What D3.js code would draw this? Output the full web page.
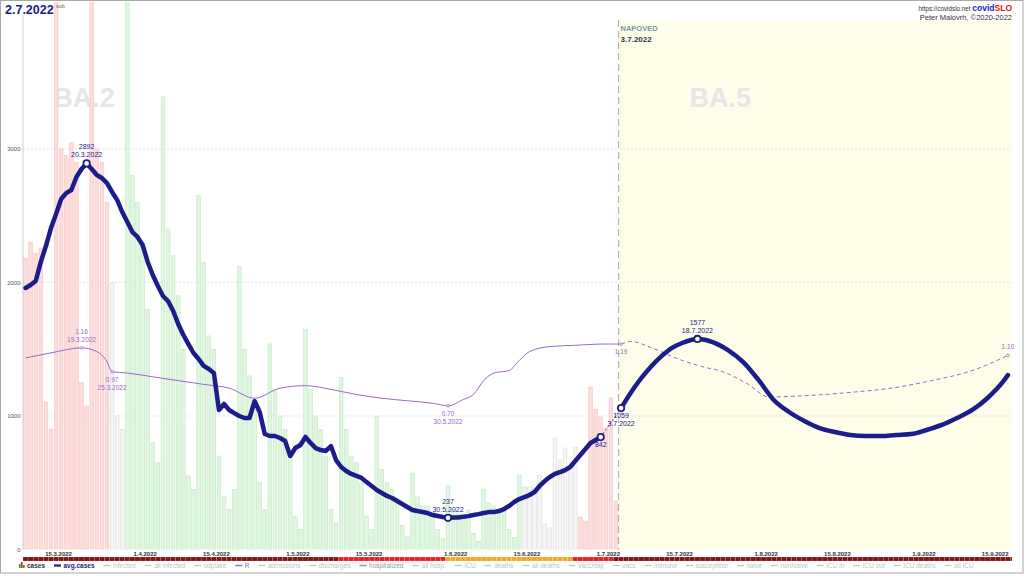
<!DOCTYPE html>
<html><head><meta charset="utf-8">
<script src="https://cdn.jsdelivr.net/npm/d3@7"></script>
<style>
body{margin:0;background:#fff;}
svg{display:block;font-family:"Liberation Sans",Arial,sans-serif;}
</style></head><body>
<svg id="c" width="1024" height="576"></svg>
<script>
// ---------------- DATA ----------------
const titleDate = "2.7.2022";
const titleDay = "sob";
const casesStart = "2022-03-08";
const cases = [
 2183,2303,2220,2258,1105,903,4300,
 3000,2950,3050,2900,1250,1075,4300,
 3000,2900,2600,2000,1000,900,4300,
 2800,2600,2300,1800,800,650,3390,
 2400,2200,1900,1500,550,450,2650,
 2150,1600,1500,700,400,300,450,
 2120,1500,1300,1100,500,300,1540,
 1200,1000,900,700,250,150,1650,
 1200,1000,900,700,300,200,1290,
 900,700,650,500,250,150,1000,
 600,500,450,380,180,100,573,
 393,326,326,281,150,80,480,
 300,273,250,296,120,60,453,
 348,326,296,310,150,90,558,
 468,468,460,558,191,161,835,
 670,760,595,768,243,213,1217,
 1052,993,910,1135,363
];
// weekly trend class of each day's cases: r = up, g = down, w = flat
const casesTrend = "rrrrrrrrrrrrrrrrrwwwggggggggggggggggggggggggggggggggggggggggggggggggggggggggggggggggggggggggggggggwwwwwwwwwwwrrrrrrrrrrrrrrrrrrrr";
const avgStart = "2022-03-08";
const avgCases = [
 1959,1981,2011,2154,2273,2408,2513,2625,2670,2693,
 2790,2850,2892,2850,2805,2783,2745,2678,2618,2528,
 2453,2378,2341,2281,2154,2056,1974,1899,1861,1787,
 1689,1607,1539,1472,1427,1375,1352,1322,1045,1090,
 1045,1022,1000,985,985,1112,1030,865,850,850,
 835,813,700,760,783,843,798,760,745,738,
 775,670,618,588,566,551,536,506,476,446,
 423,401,386,363,341,318,296,288,281,273,
 258,251,243,237,240,240,245,250,258,265,
 273,280,280,288,303,326,356,378,393,408,
 431,476,513,543,566,580,595,618,663,708,
 753,798,820,842
];
const fcDates = ["2022-07-03","2022-07-05","2022-07-07","2022-07-09","2022-07-11","2022-07-13","2022-07-15","2022-07-18","2022-07-21","2022-07-24","2022-07-27","2022-07-30","2022-08-02","2022-08-05","2022-08-08","2022-08-11","2022-08-14","2022-08-17","2022-08-20","2022-08-23","2022-08-26","2022-08-29","2022-09-01","2022-09-04","2022-09-07","2022-09-10","2022-09-13","2022-09-16","2022-09-17"];
const fcAvg = [1059,1180,1285,1375,1450,1510,1547,1577,1554,1494,1404,1270,1120,1030,963,910,880,858,850,850,858,865,895,933,985,1045,1135,1255,1307];
const rDates = ["2022-03-08","2022-03-13","2022-03-19","2022-03-22","2022-03-24","2022-03-25","2022-03-28","2022-04-02","2022-04-07","2022-04-12","2022-04-17","2022-04-22","2022-04-27","2022-05-02","2022-05-07","2022-05-12","2022-05-17","2022-05-22","2022-05-27","2022-05-30","2022-06-02","2022-06-04","2022-06-06","2022-06-08","2022-06-11","2022-06-13","2022-06-15","2022-06-19","2022-06-24","2022-06-29","2022-07-03"];
const rValues = [1.08,1.12,1.16,1.13,1.05,0.97,0.96,0.93,0.90,0.87,0.84,0.76,0.84,0.86,0.83,0.79,0.76,0.74,0.72,0.70,0.75,0.79,0.90,0.96,0.98,1.06,1.13,1.17,1.18,1.19,1.19];
const rFcDates = ["2022-07-03","2022-07-05","2022-07-09","2022-07-15","2022-07-19","2022-07-23","2022-07-28","2022-08-01","2022-08-08","2022-08-18","2022-08-25","2022-09-02","2022-09-10","2022-09-17"];
const rFcValues = [1.19,1.21,1.16,1.06,1.01,0.97,0.87,0.77,0.78,0.81,0.84,0.90,0.98,1.10];
const avgNotes = [ {date:"2022-03-20", v:2892, pos:"above", label:["2892","20.3.2022"]},
                   {date:"2022-05-30", v:237, pos:"above", label:["237","30.5.2022"]},
                   {date:"2022-06-29", v:842, pos:"below", label:["842"]},
                   {date:"2022-07-03", v:1059, pos:"below", label:["1059","3.7.2022"]},
                   {date:"2022-07-18", v:1577, pos:"above", label:["1577","18.7.2022"]} ];
const rNotes = [ {date:"2022-03-19", v:1.16, pos:"above", label:["1.16","19.3.2022"]},
                 {date:"2022-03-25", v:0.97, pos:"below", label:["0.97","25.3.2022"]},
                 {date:"2022-05-30", v:0.70, pos:"below", label:["0.70","30.5.2022"]},
                 {date:"2022-07-03", v:1.19, pos:"below", label:["1.19"]},
                 {date:"2022-09-17", v:1.10, pos:"above", label:["1.10"]} ];
const yTicks = [0,1000,2000,3000];
const xTicks = ["2022-03-15","2022-04-01","2022-04-15","2022-05-01","2022-05-15","2022-06-01","2022-06-15","2022-07-01","2022-07-15","2022-08-01","2022-08-15","2022-09-01","2022-09-15"];
const forecastStart = "2022-07-03";
const variants = [{name:"BA.2", date:"2022-03-20"},{name:"BA.5", date:"2022-07-23"}];
const phaseStarts = ["2022-03-08","2022-05-09","2022-05-30","2022-06-24","2022-07-02"];
const phaseLevels = ["dark","red","orange","red","dark"];
const legendLabels = ["cases","avg.cases","infected","all infected","odplake","R","admissions","discharged","hospitalized","all hosp.","ICU","deaths","all deaths","vacc/day","vacc","immune","susceptible","naive","nonNaive","ICU in","ICU out","ICU deaths","all ICU"];
const legendOn = ["cases","avg.cases","R","hospitalized"];

// ---------------- CHART ----------------
const parse = d3.timeParse("%Y-%m-%d");
const dayAt = (s,i)=> d3.timeDay.offset(parse(s), i);
const noon = d => d3.timeHour.offset(d, 12);
const L = 23, R = 1012, B = 549.5, T = 2, FT = 21;
const x = d3.scaleTime().domain([parse("2022-03-08"), parse("2022-09-15")]).range([23, 995.2]);
const y = d3.scaleLinear().domain([0, 1000]).range([B, 416]);
const yR = d3.scaleLinear().domain([0.5, 1.5]).range([431, 305]);
const navy = "#1c1c8a", purple = "#9a68c8";
const svg = d3.select("#c");

svg.append("defs").append("clipPath").attr("id","plot").append("rect")
  .attr("x",L).attr("y",T).attr("width",R-L).attr("height",B-T);

// forecast background
const fx = x(parse(forecastStart));
svg.append("rect").attr("x",fx).attr("y",FT).attr("width",R-fx).attr("height",B-FT).attr("fill","#fdfdea");

// grid
svg.append("g").selectAll("line").data(yTicks.filter(d=>d>0)).join("line")
  .attr("x1",L).attr("x2",R).attr("y1",d=>y(d)).attr("y2",d=>y(d))
  .attr("stroke","#dcdcdc").attr("stroke-width",0.8).attr("stroke-dasharray","2,2");

// variant labels
svg.append("g").selectAll("text").data(variants).join("text")
  .attr("x",d=>x(parse(d.date))).attr("y",107).attr("text-anchor","middle")
  .attr("font-size",27).attr("font-weight","bold").attr("fill","#e6e6e6").text(d=>d.name);

// bars
const barFill = {r:"#fddcdc", g:"#e0f6e0", w:"#f5f5f5"};
const barStroke = {r:"#f5c6c6", g:"#c2eac2", w:"#dcdcdc"};
svg.append("g").attr("clip-path","url(#plot)").selectAll("rect").data(cases).join("rect")
  .attr("x",(v,i)=>x(dayAt(casesStart,i))+0.7)
  .attr("width",(v,i)=>x(dayAt(casesStart,i+1))-x(dayAt(casesStart,i))-1.4)
  .attr("y",v=>y(v)).attr("height",v=>B-y(v))
  .attr("fill",(v,i)=>barFill[casesTrend[i]]).attr("stroke",(v,i)=>barStroke[casesTrend[i]]).attr("stroke-width",0.6);

// y axis line
svg.append("line").attr("x1",L).attr("x2",L).attr("y1",15).attr("y2",B).attr("stroke","#cfcfcf");

// forecast divider
svg.append("line").attr("x1",fx).attr("x2",fx).attr("y1",20).attr("y2",B)
  .attr("stroke","#b5b5b5").attr("stroke-width",1.2).attr("stroke-dasharray","7,4");
svg.append("text").attr("x",fx+2).attr("y",31).attr("font-size",7.5).attr("font-weight","bold").attr("fill","#6f9c9c").text("NAPOVED");
svg.append("text").attr("x",fx+2).attr("y",42).attr("font-size",8).attr("font-weight","bold").attr("fill","#2e3a3a").text("3.7.2022");

// R lines
const rPts = rDates.map((d,i)=>[noon(parse(d)), rValues[i]]);
const rFcPts = rFcDates.map((d,i)=>[noon(parse(d)), rFcValues[i]]);
const rLine = d3.line().x(d=>x(d[0])).y(d=>yR(d[1])).curve(d3.curveMonotoneX);
svg.append("path").attr("d",rLine(rPts)).attr("fill","none").attr("stroke",purple).attr("stroke-width",1);
svg.append("path").attr("d",rLine(rFcPts)).attr("fill","none").attr("stroke",purple).attr("stroke-width",1).attr("stroke-dasharray","4,3");

// avg line
const aPts = avgCases.map((v,i)=>[noon(dayAt(avgStart,i)), v]);
const fPts = fcDates.map((d,i)=>[noon(parse(d)), fcAvg[i]]);
const aLine = d3.line().x(d=>x(d[0])).y(d=>y(d[1]));
svg.append("path").attr("d",aLine([aPts[aPts.length-1], fPts[0]])).attr("fill","none")
  .attr("stroke",navy).attr("stroke-width",0.8).attr("stroke-dasharray","2,2");
svg.append("path").attr("d",aLine(aPts)).attr("fill","none").attr("stroke",navy).attr("stroke-width",4.5).attr("stroke-linejoin","round").attr("stroke-linecap","round");
svg.append("path").attr("d",aLine.curve(d3.curveMonotoneX)(fPts)).attr("fill","none").attr("stroke",navy).attr("stroke-width",4.5).attr("stroke-linecap","round");

// notes
function notes(list, ys, color, r, fs){
  const g = svg.append("g");
  list.forEach(n=>{
    const px = x(noon(parse(n.date))), py = ys(n.v);
    g.append("circle").attr("cx",px).attr("cy",py).attr("r",r).attr("fill","#fff").attr("stroke",color).attr("stroke-width",r>2?1.8:0.8);
    n.label.forEach((t,k)=>{
      const ty = n.pos==="above" ? py-6-(n.label.length-1-k)*8 : py+10+k*8;
      g.append("text").attr("x",px).attr("y",ty).attr("text-anchor","middle").attr("font-size",fs).attr("fill",color).text(t);
    });
  });
}
notes(rNotes, yR, purple, 1.3, 6.5);
notes(avgNotes, y, navy, 3.2, 7);

// y labels
svg.append("g").selectAll("text").data(yTicks).join("text")
  .attr("x",20.5).attr("y",d=>y(d)+2).attr("text-anchor","end").attr("font-size",6).attr("fill","#556").text(d=>d);

// x tick labels
const fmt = d3.timeFormat("%-d.%-m.%Y");
svg.append("g").selectAll("text").data(xTicks).join("text")
  .attr("x",d=>x(parse(d))).attr("y",556.3).attr("text-anchor","middle").attr("font-size",6).attr("font-weight","bold").attr("fill","#333").text(d=>fmt(parse(d)));

// phase strip
const phaseColor = {dark:"#8a1010", red:"#f01c1c", orange:"#f5a623"};
const stripDays = d3.timeDay.range(parse("2022-03-08"), d3.timeDay.offset(parse("2022-09-15"),4));
const phaseOf = d => { let k=0; phaseStarts.forEach((s,i)=>{ if(d>=parse(s)) k=i; }); return phaseLevels[k]; };
svg.append("g").selectAll("rect").data(stripDays).join("rect")
  .attr("x",d=>x(d)).attr("width",d=>Math.min(x(d3.timeDay.offset(d,1)),R)-x(d)).attr("y",557).attr("height",4)
  .attr("fill",d=>phaseColor[phaseOf(d)]).attr("stroke","rgba(255,255,255,0.35)").attr("stroke-width",0.4);

// legend
const lg = svg.append("g").attr("font-size",6.5);
let lx = 19;
legendLabels.forEach(name=>{
  const on = legendOn.includes(name);
  const col = name==="avg.cases"?navy : name==="R"?purple : name==="cases"?"#333" : name==="hospitalized"?"#999":"#c4c4c4";
  if(name==="cases"){
    lg.append("rect").attr("x",lx).attr("y",564).attr("width",1.6).attr("height",4).attr("fill","#2a9a2a");
    lg.append("rect").attr("x",lx+2).attr("y",562).attr("width",1.6).attr("height",6).attr("fill","#e02020");
    lg.append("rect").attr("x",lx+4).attr("y",565).attr("width",1.6).attr("height",3).attr("fill","#2a9a2a");
    lx += 8;
  } else {
    lg.append("line").attr("x1",lx).attr("x2",lx+7).attr("y1",565.5).attr("y2",565.5).attr("stroke",col).attr("stroke-width",name==="avg.cases"?2.2:(on?1.5:1.2));
    lx += 9.5;
  }
  const t = lg.append("text").attr("x",lx).attr("y",568).attr("fill",col).attr("font-weight",(name==="avg.cases"||name==="cases")?"bold":"normal").text(name);
  lx += t.node().getComputedTextLength() + 8.9;
});

// title and credits
svg.append("text").attr("x",5).attr("y",14).attr("font-size",12.5).attr("font-weight","bold").attr("fill","#1a1a8c").text(titleDate);
svg.append("text").attr("x",56).attr("y",8).attr("font-size",5.5).attr("fill","#667").text(titleDay);
const cr = svg.append("text").attr("x",1012).attr("y",10.5).attr("text-anchor","end");
cr.append("tspan").attr("font-size",6.3).attr("fill","#333").text("https://covidslo.net ");
cr.append("tspan").attr("font-size",8.5).attr("font-weight","bold").attr("fill","#1a1acc").text("covid");
cr.append("tspan").attr("font-size",8.5).attr("font-weight","bold").attr("fill","#e01010").text("SLO");
svg.append("text").attr("x",1012).attr("y",19.5).attr("text-anchor","end").attr("font-size",7.5).attr("fill","#333").text("Peter Malovrh, ©2020-2022");

// frame
svg.append("rect").attr("x",0.5).attr("y",0.5).attr("width",1022.5).attr("height",572.5).attr("fill","none").attr("stroke","#a8a8a8");
</script></body></html>
